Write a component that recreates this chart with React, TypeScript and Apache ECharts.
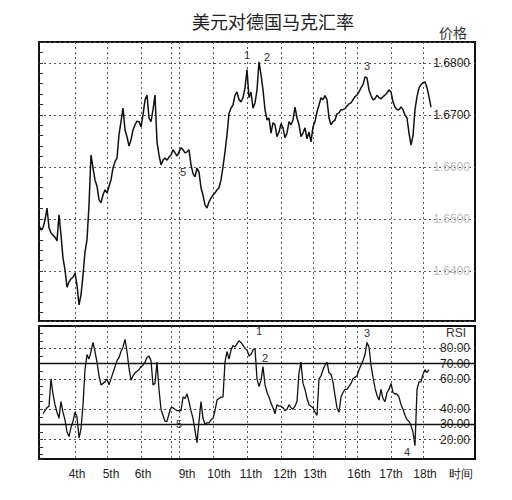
import React, { useEffect, useRef } from "react";
import * as echarts from "echarts";

// ---------- data ----------
const chartTitle = "美元对德国马克汇率";
const priceAxisName = "价格";
const rsiAxisName = "RSI";

const slotCount = 219;
const timeSlots = Array.from({ length: slotCount }, (_, i) => String(i));

const dayLabels = ["4th", "5th", "6th", "9th", "10th", "11th", "12th", "13th", "16th", "17th", "18th", "时间"];
const dayLabelSlots = [19, 36, 52, 74, 90, 106, 123, 138, 160, 176, 193, 211];
const dayBoundarySlots = [18, 34, 51, 66, 70, 87, 104, 121, 137, 153, 159, 176, 192];

const price = [
  1.6488, 1.6479, 1.6483, 1.6498, 1.6521, 1.6483, 1.6473, 1.6469, 1.6465, 1.6458,
  1.6508, 1.6469, 1.6425, 1.6402, 1.6369, 1.6379, 1.6385, 1.6388, 1.6396, 1.6373,
  1.6335, 1.6354, 1.6392, 1.6437, 1.646, 1.6527, 1.6623, 1.6598, 1.6575, 1.6563,
  1.6537, 1.6531, 1.6546, 1.6556, 1.655, 1.6563, 1.6575, 1.6598, 1.661, 1.6617,
  1.6662, 1.6687, 1.6713, 1.6671, 1.6658, 1.664, 1.6652, 1.6671, 1.6681, 1.6688,
  1.6687, 1.6677, 1.67, 1.6729, 1.6738, 1.6694, 1.6687, 1.671, 1.6738, 1.6648,
  1.6623, 1.6604, 1.6613, 1.6617, 1.6613, 1.6619, 1.6623, 1.6633, 1.6627, 1.6621,
  1.6629, 1.6637, 1.6633, 1.6627, 1.6629, 1.6633, 1.6604, 1.6587, 1.6581, 1.6598,
  1.659, 1.656, 1.6546, 1.6527, 1.6521, 1.6533, 1.654, 1.6546, 1.655, 1.6556,
  1.656, 1.6575, 1.66, 1.6629, 1.6662, 1.6702, 1.6713, 1.6719, 1.6738, 1.6744,
  1.6729, 1.6725, 1.6733, 1.6752, 1.6787, 1.6733, 1.6744, 1.6713, 1.6723, 1.6748,
  1.6802, 1.6777, 1.6748, 1.671, 1.669, 1.6694, 1.6665, 1.6685, 1.6681, 1.6658,
  1.6667, 1.6683, 1.6675, 1.6656, 1.6665, 1.6687, 1.6681, 1.669, 1.6715, 1.6694,
  1.6681, 1.6658, 1.6665, 1.6675, 1.6654, 1.6667, 1.6648, 1.6677, 1.6687, 1.6706,
  1.6719, 1.6733, 1.6729, 1.6737, 1.6729, 1.6694, 1.6681, 1.6687, 1.669, 1.6702,
  1.6704, 1.671, 1.671, 1.6712, 1.6717, 1.6721, 1.6723, 1.6729, 1.6735, 1.6738,
  1.6744, 1.6752, 1.6758, 1.6773, 1.6771, 1.6748, 1.6737, 1.6729, 1.6731, 1.6738,
  1.6733, 1.6731, 1.6735, 1.6738, 1.6742, 1.6748, 1.6744, 1.6725, 1.6715, 1.671,
  1.671, 1.6715, 1.671, 1.67, 1.6694, 1.6665, 1.6642, 1.666, 1.671, 1.6735,
  1.6752, 1.6758, 1.6762, 1.6763, 1.6752, 1.6735, 1.6715,
];

const rsi = [
  null, null, 37, 39, 41, 42, 60, 50, 43, 38,
  34, 45, 38, 33, 25, 22, 28, 32, 38, 35,
  21, 27, 43, 66, 76, 73, 78, 84, 78, 71,
  62, 56, 57, 58, 60, 56, 60, 64, 68, 72,
  74, 78, 81, 86, 78, 67, 59, 62, 64, 65,
  66, 68, 69, 71, 74, 75, 72, 56, 57, 71,
  53, 40, 36, 32, 32, 37, 41, 41, 40, 39,
  39, 39, 48, 47, 50, 45, 39, 34, 26, 18,
  32, 45, 34, 30, 31, 31, 33, 34, 39, 46,
  47, 48, 48, 71, 78, 73, 79, 82, 81, 83,
  85, 84, 82, 80, 79, 75, 76, 79, 80, 60,
  55, 59, 68, 56, 51, 48, 44, 41, 37, 43,
  42, 42, 41, 39, 40, 43, 41, 40, 42, 45,
  64, 71, 57, 53, 47, 43, 42, 41, 38, 36,
  60, 62, 66, 69, 71, 64, 63, 58, 49, 41,
  38, 48, 51, 53, 53, 55, 57, 60, 61, 62,
  66, 69, 72, 76, 84, 81, 69, 61, 54, 49,
  46, 53, 47, 45, 51, 53, 57, 51, 50, 50,
  48, 43, 40, 36, 33, 32, 29, 25, 16, 53,
  58, 58, 63, 66, 64, 66,
];

const priceTicks = [1.64, 1.65, 1.66, 1.67, 1.68];
const priceClearTicks = [1.67, 1.68];
const rsiTicks = [20, 30, 40, 60, 70, 80];
const rsiSolidLevels = [70, 30];
const rsiDottedLevels = [80, 60, 40, 20];

const priceNoteText = ["1", "2", "3", "5"];
const priceNoteSlots = [104, 114, 164, 72];
const priceNoteValues = [1.6815, 1.6812, 1.6794, 1.659];

const rsiNoteText = ["1", "2", "3", "5", "4"];
const rsiNoteSlots = [110, 113, 164, 70, 184];
const rsiNoteValues = [91.5, 73.7, 90.5, 30.2, 11.8];

// ---------- chart ----------
const near = (a: number, list: number[]) => list.some((t) => Math.abs(t - a) < 1e-6);

export default function App() {
  const ref = useRef<HTMLDivElement>(null);

  useEffect(() => {
    document.body.style.margin = "0";
    if (!ref.current) return;
    const chart = echarts.init(ref.current, null, { renderer: "svg" });

    const font = "'Liberation Sans', Arial, sans-serif";
    const cjk = "'Noto Sans CJK SC', sans-serif";
    const gridDash = { type: [2, 3] as any, color: "#555", width: 1 };

    const noteLabel = {
      show: true,
      position: "inside" as const,
      color: "#333",
      fontSize: 11,
      fontFamily: font,
    };

    const xBase = {
      type: "category" as const,
      data: timeSlots,
      boundaryGap: false,
      axisLine: { show: false },
      axisTick: { show: false },
      splitLine: {
        show: true,
        interval: (index: number) => dayBoundarySlots.includes(index),
        lineStyle: gridDash,
      },
    };

    const option: any = {
      animation: false,
      backgroundColor: "#fff",
      title: [
        {
          text: chartTitle,
          left: 192,
          top: 12,
          padding: 0,
          textStyle: { fontSize: 18, fontWeight: "normal", color: "#222", fontFamily: cjk },
        },
        {
          text: priceAxisName,
          left: 439,
          top: 25,
          padding: 0,
          textStyle: { fontSize: 14, fontWeight: "normal", color: "#333", fontFamily: cjk },
        },
        {
          text: rsiAxisName,
          left: 446,
          top: 327,
          padding: 0,
          textStyle: { fontSize: 12, fontWeight: "normal", color: "#333", fontFamily: font },
        },
      ],
      grid: [
        { left: 39, width: 436, top: 42, height: 279, show: true, borderColor: "#111", borderWidth: 2, backgroundColor: "transparent" },
        { left: 39, width: 436, top: 326, height: 133, show: true, borderColor: "#111", borderWidth: 2, backgroundColor: "transparent" },
      ],
      xAxis: [
        { ...xBase, gridIndex: 0, axisLabel: { show: false } },
        {
          ...xBase,
          gridIndex: 1,
          axisLabel: {
            show: true,
            interval: (index: number) => dayLabelSlots.includes(index),
            formatter: (_v: string, index: number) => {
              const k = dayLabelSlots.indexOf(index);
              return k >= 0 ? dayLabels[k] : "";
            },
            color: "#222",
            fontSize: 12,
            fontFamily: font,
            margin: 9,
          },
        },
      ],
      yAxis: [
        {
          type: "value",
          gridIndex: 0,
          position: "right",
          min: 1.6304,
          max: 1.684,
          splitNumber: 5,
          axisLine: { show: false },
          axisTick: { show: false },
          splitLine: { show: true, lineStyle: gridDash },
          axisLabel: {
            inside: true,
            margin: 5,
            showMinLabel: false,
            showMaxLabel: false,
            fontSize: 12,
            fontFamily: font,
            formatter: (v: number) => (near(v, priceTicks) ? v.toFixed(4) : ""),
            color: (v: any) => (near(Number(v), priceClearTicks) ? "#222" : "#bbb"),
          },
        },
        {
          type: "value",
          gridIndex: 0,
          position: "left",
          min: 1.6304,
          max: 1.684,
          splitNumber: 27,
          axisLine: { show: false },
          axisTick: { show: true, inside: true, length: 4, lineStyle: { color: "#333" } },
          splitLine: { show: false },
          axisLabel: { show: false },
        },
        {
          type: "value",
          gridIndex: 1,
          position: "right",
          min: 7.2,
          max: 94.8,
          splitNumber: 9,
          axisLine: { show: false },
          axisTick: { show: false },
          splitLine: { show: false },
          axisLabel: {
            inside: true,
            margin: 5,
            showMinLabel: false,
            showMaxLabel: false,
            fontSize: 12,
            fontFamily: font,
            color: "#222",
            formatter: (v: number) => (near(v, rsiTicks) ? v.toFixed(2) : ""),
          },
        },
        {
          type: "value",
          gridIndex: 1,
          position: "left",
          min: 7.2,
          max: 94.8,
          splitNumber: 14,
          axisLine: { show: false },
          axisTick: { show: true, inside: true, length: 4, lineStyle: { color: "#333" } },
          splitLine: { show: false },
          axisLabel: { show: false },
        },
      ],
      series: [
        {
          type: "line",
          name: "price",
          xAxisIndex: 0,
          yAxisIndex: 0,
          data: price,
          showSymbol: false,
          symbol: "none",
          lineStyle: { color: "#111", width: 1.5 },
          markPoint: {
            symbol: "circle",
            symbolSize: 0,
            label: noteLabel,
            data: priceNoteText.map((t, i) => ({
              coord: [priceNoteSlots[i], priceNoteValues[i]],
              value: t,
              label: { ...noteLabel, formatter: t },
            })),
          },
        },
        {
          type: "line",
          name: "RSI",
          xAxisIndex: 1,
          yAxisIndex: 2,
          data: rsi,
          showSymbol: false,
          symbol: "none",
          connectNulls: false,
          lineStyle: { color: "#111", width: 1.3 },
          markLine: {
            silent: true,
            symbol: "none",
            label: { show: false },
            data: [
              ...rsiSolidLevels.map((v) => ({ yAxis: v, lineStyle: { type: "solid", color: "#111", width: 1.3 } })),
              ...rsiDottedLevels.map((v) => ({ yAxis: v, lineStyle: { type: [2, 3], color: "#444", width: 1 } })),
            ],
          },
          markPoint: {
            symbol: "circle",
            symbolSize: 0,
            label: noteLabel,
            data: rsiNoteText.map((t, i) => ({
              coord: [rsiNoteSlots[i], rsiNoteValues[i]],
              value: t,
              label: { ...noteLabel, formatter: t },
            })),
          },
        },
      ],
    };

    chart.setOption(option);
    return () => chart.dispose();
  }, []);

  return <div ref={ref} style={{ width: 512, height: 500 }} />;
}
